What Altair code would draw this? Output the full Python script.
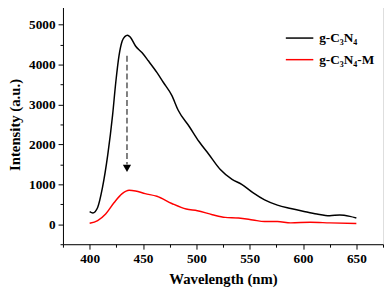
import altair as alt
import pandas as pd

black_nm = [400, 403, 407.5, 412, 417, 421.5, 424.5, 427.5, 430.5, 433, 435.5, 438, 443, 449, 455, 463, 469, 477, 483, 493.5, 502.5, 512, 522.5, 533.5, 542.5, 553, 564, 576, 588.5, 601, 613, 625, 634.5, 644, 650]
black_I = [314, 282, 421, 916, 1742, 2733, 3557, 4218, 4589, 4700, 4735, 4690, 4465, 4300, 4094, 3804, 3557, 3228, 2856, 2443, 2072, 1742, 1371, 1124, 1000, 792, 611, 480, 396, 322, 257, 215, 233, 198, 158]
red_nm = [400, 407.5, 415, 423, 430.5, 437, 443, 452, 463, 477, 490.5, 501, 515, 527, 539.5, 553, 564, 576, 588.5, 607, 625, 650]
red_I = [25, 92, 257, 545, 767, 851, 834, 767, 700, 520, 381, 339, 240, 173, 158, 109, 67, 67, 35, 50, 35, 17]

series_names = ["g-C\u2083N\u2084", "g-C\u2083N\u2084-M"]
series_colors = ["black", "red"]

x_major = [400, 450, 500, 550, 600, 650]
x_minor = [375, 425, 475, 525, 575, 625, 675]
y_major = [0, 1000, 2000, 3000, 4000, 5000]
y_minor = [-500, 500, 1500, 2500, 3500, 4500, 5500]

arrow_x = [435]
arrow_y_start = [4218]
arrow_y_end = [1495]
arrow_head_y = [1400]

FONT = "Liberation Serif"

df = pd.concat([
    pd.DataFrame({"nm": black_nm, "I": black_I, "s": series_names[0], "o": range(len(black_nm))}),
    pd.DataFrame({"nm": red_nm, "I": red_I, "s": series_names[1], "o": range(len(red_nm))}),
])

xs = alt.Scale(domain=[375, 675], nice=False, zero=False)
ys = alt.Scale(domain=[-500, 5500], nice=False, zero=False)

lines = alt.Chart(df).mark_line(strokeWidth=1.5, interpolate="monotone").encode(
    x=alt.X("nm:Q", scale=xs, axis=alt.Axis(
        values=x_major, format="d", title="Wavelength (nm)", orient="bottom", grid=False,
        tickSize=5, tickColor="black", domainColor="black", labelColor="black",
        labelFont=FONT, labelFontWeight="bold", labelFontSize=13.5, labelPadding=3,
        titleFont=FONT, titleFontWeight="bold", titleFontSize=15, titleColor="black", titlePadding=7)),
    y=alt.Y("I:Q", scale=ys, axis=alt.Axis(
        values=y_major, format="d", title="Intensity (a.u.)", orient="left", grid=False,
        tickSize=5, tickColor="black", domainColor="black", labelColor="black",
        labelFont=FONT, labelFontWeight="bold", labelFontSize=13.5, labelPadding=3,
        titleFont=FONT, titleFontWeight="bold", titleFontSize=15, titleColor="black", titlePadding=6)),
    color=alt.Color("s:N", scale=alt.Scale(domain=series_names, range=series_colors), legend=alt.Legend(
        title=None, orient="none", legendX=226, legendY=19, symbolType="stroke", symbolSize=784,
        symbolStrokeWidth=1.5, labelFont=FONT, labelFontWeight="bold", labelFontSize=13.5,
        labelColor="black", rowPadding=-10, labelOffset=5)),
    order="o:Q",
)

minor = alt.Chart(pd.DataFrame({"nm": [400], "I": [0]})).mark_point(opacity=0).encode(
    x=alt.X("nm:Q", scale=xs, axis=alt.Axis(values=x_minor, labels=False, title=None, orient="bottom",
            grid=False, domain=False, tickSize=3, tickColor="black")),
    y=alt.Y("I:Q", scale=ys, axis=alt.Axis(values=y_minor, labels=False, title=None, orient="left",
            grid=False, domain=False, tickSize=3, tickColor="black")),
)

adf = pd.DataFrame({"x": arrow_x, "y1": arrow_y_start, "y2": arrow_y_end, "yh": arrow_head_y})
shaft = alt.Chart(adf).mark_rule(color="#555555", strokeWidth=1.5, strokeDash=[6, 3]).encode(
    x=alt.X("x:Q", scale=xs, axis=None), y=alt.Y("y1:Q", scale=ys, axis=None), y2="y2:Q")
head = alt.Chart(adf).mark_point(shape="triangle-down", filled=True, color="black", size=70, opacity=1).encode(
    x=alt.X("x:Q", scale=xs, axis=None), y=alt.Y("yh:Q", scale=ys, axis=None))

chart = alt.layer(minor, lines, shaft, head).resolve_axis(x="independent", y="independent").properties(
    width=326, height=244, padding={"left": 0, "top": -7, "right": 0, "bottom": 0}
).configure_view(stroke="black", strokeWidth=1).configure(background="white")

chart.save("out.html", embed_options={"renderer": "svg", "actions": False})
